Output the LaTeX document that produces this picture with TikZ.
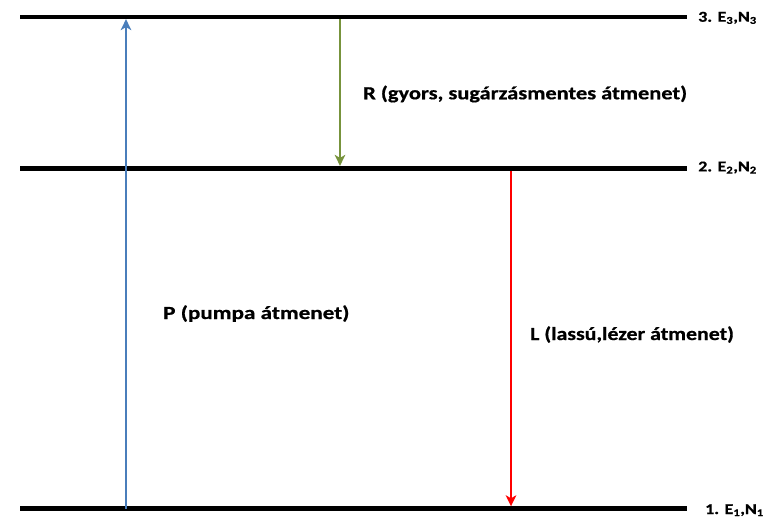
\documentclass[tikz,border=0pt]{standalone}
\usepackage{fontspec}
\setmainfont{Carlito}[BoldFeatures={FakeBold=0.6}]
\usetikzlibrary{arrows.meta}
\definecolor{pblue}{RGB}{74,126,187}
\definecolor{rgreen}{RGB}{119,147,60}
\definecolor{lred}{RGB}{255,0,0}
\newcommand{\wide}[2][1.22]{\scalebox{#1}[1]{#2}}
\begin{document}
\begin{tikzpicture}[x=1pt,y=-1pt,
  level/.style={line width=4.6pt},
  trans/.style={line width=2pt,-{Stealth[length=11pt,width=10.5pt,inset=3pt]}},
  lbl/.style={font=\fontsize{18.5}{22}\selectfont\bfseries,anchor=base west,inner sep=0pt},
  lvl/.style={font=\fontsize{15}{18}\selectfont\bfseries,anchor=base west,inner sep=0pt}]
\useasboundingbox (0,0) rectangle (768,522);
% levels
\coordinate (l3a) at (20,16.8);  \coordinate (l3b) at (687,16.8);
\coordinate (l2a) at (20,168.2); \coordinate (l2b) at (687,168.2);
\coordinate (l1a) at (20,508.6); \coordinate (l1b) at (687,508.6);
\draw[level] (l3a) -- (l3b);
\draw[level] (l2a) -- (l2b);
\draw[level] (l1a) -- (l1b);
% arrow end points
\coordinate (p1) at (126,508.6); \coordinate (p3) at (126,19.1);
\coordinate (r3) at (340,19.1);  \coordinate (r2) at (340,165.9);
\coordinate (s2) at (511,170.5); \coordinate (s1) at (511,506.3);
\draw[trans,pblue] (p1) -- (p3);
\draw[trans,rgreen] (r3) -- (r2);
\draw[trans,lred] (s2) -- (s1);
% labels
\node[lbl] (rl) at (363,99.3) {\wide[1.21]{R (gyors, sugárzásmentes átmenet)}};
\node[lbl] (pl) at (163,319) {\wide[1.25]{P (pumpa átmenet)}};
\node[lbl] (ll) at (530,340) {\wide[1.18]{L (lassú,lézer átmenet)}};
\node[lvl] (n3) at (698,21.7) {\wide[1.2]{3. E\textsubscript{3},N\textsubscript{3}}};
\node[lvl] (n2) at (698,171.4) {\wide[1.2]{2. E\textsubscript{2},N\textsubscript{2}}};
\node[lvl] (n1) at (705,514) {\wide[1.2]{1. E\textsubscript{1},N\textsubscript{1}}};
\end{tikzpicture}
\end{document}
